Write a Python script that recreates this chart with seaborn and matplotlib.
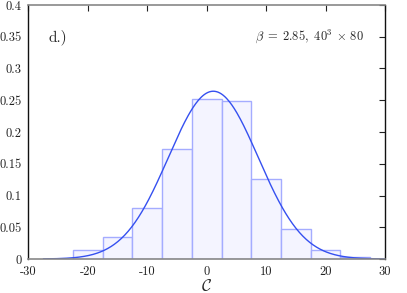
import matplotlib
matplotlib.use("Agg")
import numpy as np
import matplotlib.pyplot as plt
import seaborn as sns

# histogram data (fraction per bin, bin width 5)
bin_edges = [-22.5, -17.5, -12.5, -7.5, -2.5, 2.5, 7.5, 12.5, 17.5, 22.5, 27.5]
bin_centers = [-20, -15, -10, -5, 0, 5, 10, 15, 20, 25]
bin_heights = [0.014, 0.034, 0.081, 0.174, 0.252, 0.249, 0.126, 0.047, 0.014, 0.003]

# gaussian fit parameters
fit_mu = 1.1
fit_sigma = 7.55
fit_norm = 5.0  # bin width
fit_range = (-27.5, 30)

x_ticks = [-30, -20, -10, 0, 10, 20, 30]
x_tick_labels = ["-30", "-20", "-10", "0", "10", "20", "30"]
y_ticks = [0, 0.05, 0.1, 0.15, 0.2, 0.25, 0.3, 0.35, 0.4]
y_tick_labels = ["0", "0.05", "0.1", "0.15", "0.2", "0.25", "0.3", "0.35", "0.4"]

sns.set_theme(style="white")
plt.rcParams["font.family"] = ["cmr10", "DejaVu Serif"]
plt.rcParams["mathtext.fontset"] = "cm"
plt.rcParams["axes.unicode_minus"] = False

fig = plt.figure(figsize=(4.07, 2.93), dpi=100)
ax = fig.add_axes([0.070, 0.116, 0.876, 0.867])

sns.histplot(x=bin_centers, weights=bin_heights, bins=bin_edges, stat="count",
             color="#f4f4ff", edgecolor="#a4acff", linewidth=1.0, alpha=1.0, ax=ax)

xs = np.linspace(fit_range[0], fit_range[1], 400)
ys = fit_norm / (fit_sigma * np.sqrt(2 * np.pi)) * np.exp(-0.5 * ((xs - fit_mu) / fit_sigma) ** 2)
sns.lineplot(x=xs, y=ys, color="#3550f0", linewidth=1.0, ax=ax)

ax.set_xlim(-30, 30)
ax.set_ylim(0, 0.4)
ax.set_xticks(x_ticks)
ax.set_xticklabels(x_tick_labels)
ax.set_yticks(y_ticks)
ax.set_yticklabels(y_tick_labels)
ax.tick_params(direction="in", length=4, width=0.8, top=True, right=True,
               labelsize=9, colors="#222222", pad=5)
ax.set_xlabel(r"$\mathcal{C}$", fontsize=12, labelpad=0)
ax.set_ylabel("")

for side in ["left", "right"]:
    ax.spines[side].set_color("#111111")
    ax.spines[side].set_linewidth(1.0)
for side in ["top", "bottom"]:
    ax.spines[side].set_color("#888888")
    ax.spines[side].set_linewidth(1.2)

ax.text(-26.7, 0.35, "d.)", fontsize=11, va="center", ha="left")
ax.text(26.4, 0.35, r"$\beta\;=\;2.85,\ 40^3\,\times\,80$", fontsize=9, va="center", ha="right")

plt.savefig("out.png", dpi=100)
plt.close("all")
